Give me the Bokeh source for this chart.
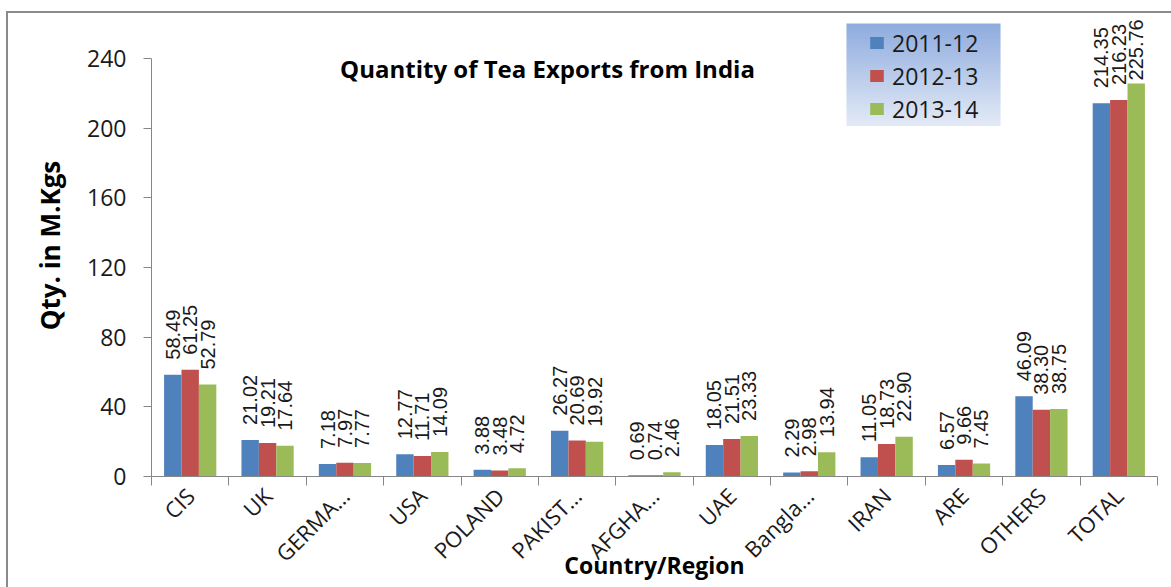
import math
from bokeh.plotting import figure
from bokeh.models import (Range1d, FixedTicker, ColumnDataSource, Legend, LegendItem,
                          Label, BoxAnnotation, InlineStyleSheet)
from bokeh.transform import dodge
from bokeh.core.properties import value
from bokeh.embed import file_html
from bokeh.resources import INLINE

# ---------------- data ----------------
categories = ["CIS", "UK", "GERMA…", "USA", "POLAND", "PAKIST…", "AFGHA…", "UAE",
              "Bangla…", "IRAN", "ARE", "OTHERS", "TOTAL"]
series_names = ["2011-12", "2012-13", "2013-14"]
qty_2011_12 = [58.49, 21.02, 7.18, 12.77, 3.88, 26.27, 0.69, 18.05, 2.29, 11.05, 6.57, 46.09, 214.35]
qty_2012_13 = [61.25, 19.21, 7.97, 11.71, 3.48, 20.69, 0.74, 21.51, 2.98, 18.73, 9.66, 38.30, 216.23]
qty_2013_14 = [52.79, 17.64, 7.77, 14.09, 4.72, 19.92, 2.46, 23.33, 13.94, 22.90, 7.45, 38.75, 225.76]
y_ticks = [0, 40, 80, 120, 160, 200, 240]
title_text = "Quantity of Tea Exports from India"
y_label_text = "Qty. in M.Kgs"
x_label_text = "Country/Region"

# ---------------- layout / style ----------------
W, H = 1171, 587
FL, FR, FT, FB = 151, 1157, 14, 476
frame_h = FB - FT
PX_PER_UNIT = (475.5 - 57.7) / 240.0
Y_END = frame_h / PX_PER_UNIT
BAR_W = 0.225
COLORS = ["#4F81BD", "#C0504D", "#9BBB59"]
AXIS_C = "#868686"
TICK_FONT = "Open Sans"
LBL_FONT = "Liberation Sans"
LBL_SIZE = 20

p = figure(width=W, height=H, x_range=Range1d(0.5, 13.5), y_range=Range1d(0, Y_END),
           output_backend="svg", toolbar_location=None,
           min_border_left=FL, min_border_right=W - FR, min_border_top=FT,
           min_border_bottom=H - FB)
p.outline_line_color = None
p.xgrid.visible = False
p.ygrid.visible = False
p.background_fill_color = "white"
p.border_fill_color = "white"

# outer chart border (left and top edges visible), drawn with CSS on the plot host
p.stylesheets = [InlineStyleSheet(css=(
    ":host::after { content: ''; position: absolute; left: 6px; top: 11px; "
    "width: 1200px; height: 620px; border-left: 2px solid #8a8a8a; "
    "border-top: 2px solid #8a8a8a; pointer-events: none; box-sizing: border-box; }"
))]

# y axis
ya = p.yaxis[0]
ya.ticker = FixedTicker(ticks=y_ticks, minor_ticks=[])
ya.bounds = (0, 240)
ya.axis_line_color = AXIS_C
ya.major_tick_line_color = AXIS_C
ya.major_tick_out = 8
ya.major_tick_in = 0
ya.minor_tick_line_color = None
ya.major_label_text_font = TICK_FONT
ya.major_label_text_font_size = "23px"
ya.major_label_text_color = "#1a1a1a"
ya.major_label_standoff = 17
ya.axis_label = y_label_text
ya.axis_label_text_font = TICK_FONT
ya.axis_label_text_font_style = "bold"
ya.axis_label_text_font_size = "26px"
ya.axis_label_text_color = "black"
ya.axis_label_standoff = 16

# x axis
xs = list(range(1, len(categories) + 1))
xa = p.xaxis[0]
xa.ticker = FixedTicker(ticks=xs, minor_ticks=[i + 0.5 for i in range(0, len(categories) + 1)])
xa.axis_line_color = AXIS_C
xa.major_tick_line_color = None
xa.major_tick_out = 9
xa.major_tick_in = 0
xa.minor_tick_line_color = AXIS_C
xa.minor_tick_out = 9
xa.minor_tick_in = 0
xa.major_label_overrides = {x: c for x, c in zip(xs, categories)}
xa.major_label_orientation = math.pi / 4
xa.major_label_text_font = TICK_FONT
xa.major_label_text_font_size = "22px"
xa.major_label_text_color = "#1a1a1a"
xa.major_label_standoff = 6
xa.axis_label = x_label_text
xa.axis_label_text_font = TICK_FONT
xa.axis_label_text_font_style = "bold"
xa.axis_label_text_font_size = "23px"
xa.axis_label_text_color = "black"
xa.axis_label_standoff = -32

# bars + labels
series = [qty_2011_12, qty_2012_13, qty_2013_14]
renderers = []
char_w = {c: 0.556 for c in "0123456789"}
char_w["."] = 0.278
for k, vals in enumerate(series):
    labels = ["%.2f" % v for v in vals]
    offs = []
    for v, t in zip(vals, labels):
        length = sum(char_w[c] for c in t) * LBL_SIZE
        bar_top = 475.5 - v * PX_PER_UNIT
        gap = 15
        if bar_top - gap - length < 20:
            gap = max(3, bar_top - length - 20)
        offs.append(-gap)
    src = ColumnDataSource(dict(x=xs, v=vals, t=labels, off=offs))
    off = (k - 1) * BAR_W
    r = p.vbar(x=dodge("x", off), top="v", width=BAR_W, source=src,
               fill_color=COLORS[k], line_color=None)
    renderers.append(r)
    p.text(x=dodge("x", off), y="v", text="t", source=src, angle=math.pi / 2,
           text_align="left", text_baseline="middle", y_offset="off",
           text_font=value(LBL_FONT), text_font_size="%dpx" % LBL_SIZE, text_color="#1a1a1a")

# legend background (vertical gradient)
top_c = (0x8F, 0xAC, 0xDE)
bot_c = (0xE2, 0xE9, 0xF6)
LG_L, LG_R, LG_T, LG_B = 846, 1000, 23, 125
n = 34
step = (LG_B - LG_T) / n
for i in range(n):
    f = i / (n - 1)
    c = tuple(int(round(a + (b - a) * f)) for a, b in zip(top_c, bot_c))
    p.add_layout(BoxAnnotation(left=LG_L, right=LG_R, top=LG_T + i * step, bottom=LG_T + (i + 1) * step + 0.6,
                               left_units="canvas", right_units="canvas", top_units="canvas",
                               bottom_units="canvas", fill_color="#%02x%02x%02x" % c, fill_alpha=1,
                               line_color=None))

legend = Legend(items=[LegendItem(label=n_, renderers=[r]) for n_, r in zip(series_names, renderers)],
                location=(868 - FL, FB - 125), orientation="vertical",
                background_fill_alpha=0, border_line_color=None, padding=0, margin=0, spacing=0,
                glyph_width=17, glyph_height=15, label_standoff=7, label_height=33,
                label_text_font=TICK_FONT, label_text_font_size="23px", label_text_color="#1a1a1a")
p.add_layout(legend)

# chart title
p.add_layout(Label(x=547, y=68, x_units="canvas", y_units="canvas", text=title_text,
                   text_align="center", text_baseline="middle", text_font=TICK_FONT,
                   text_font_style="bold", text_font_size="24px", text_color="black"))

open("out.html", "w").write(file_html(p, INLINE))
